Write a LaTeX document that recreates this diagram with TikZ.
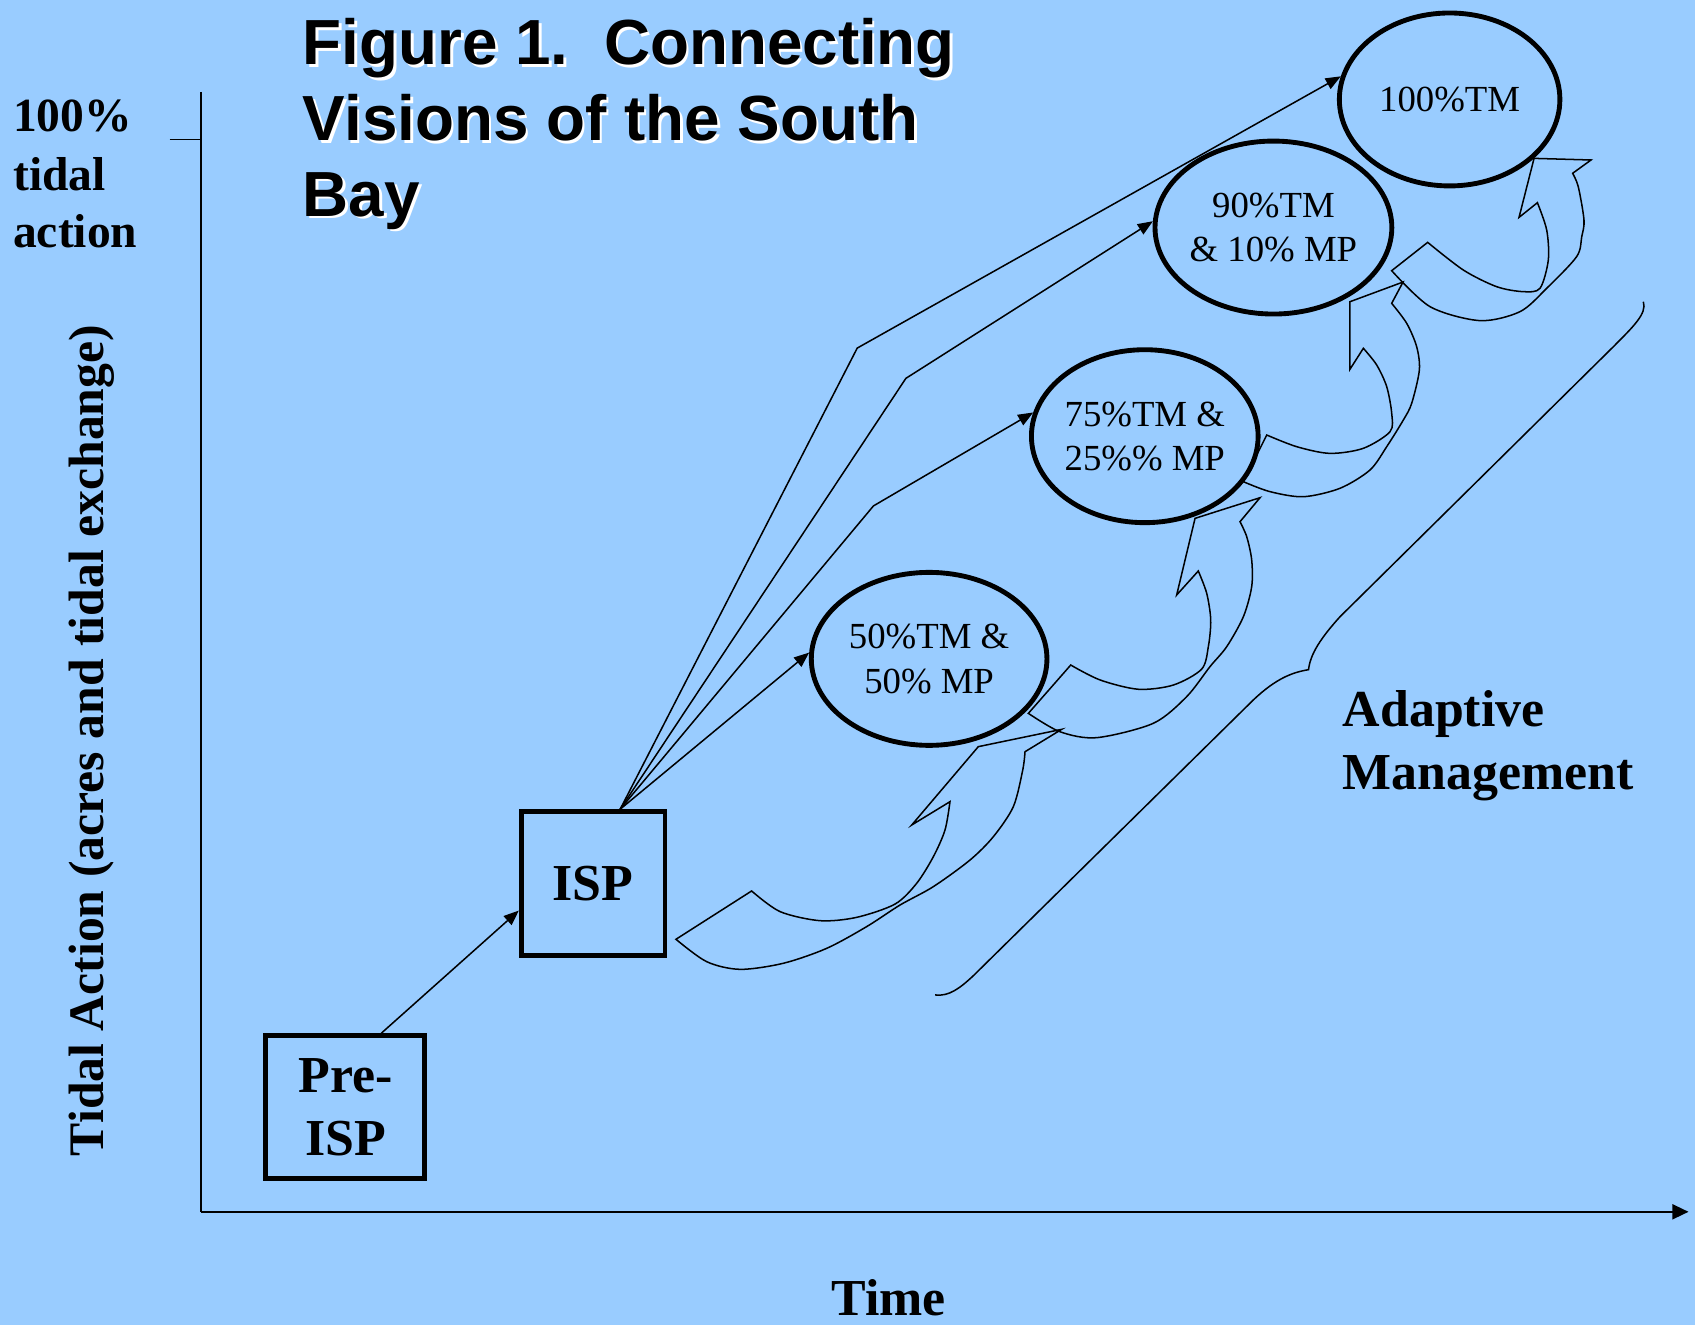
\documentclass[tikz,border=0pt]{standalone}
\usepackage{fontspec}
\setmainfont{Liberation Serif}
\newfontfamily\headfont{Liberation Sans}
\usetikzlibrary{arrows.meta,shapes.geometric}
\definecolor{sky}{HTML}{99CCFF}

\begin{document}
\begin{tikzpicture}[x=1pt,y=-1pt,
  thickframe/.style={draw, line width=4.5pt, fill=sky, inner sep=0pt},
  stage/.style={thickframe, ellipse, font=\fontsize{34}{41}\selectfont, align=center},
  phase/.style={thickframe, rectangle, font=\bfseries\fontsize{48}{58}\selectfont, align=center},
  conn/.style={line width=1.4pt, -{Triangle[length=14pt,width=11pt]}},
  axisline/.style={line width=1.6pt},
  bendarrow/.style={line width=1.4pt, line join=miter},
  bigtag/.style={inner sep=0pt, font=\bfseries\fontsize{48}{58}\selectfont},
  sidetag/.style={inner sep=0pt, font=\bfseries\fontsize{44}{53}\selectfont},
  headline/.style={inner sep=0pt, anchor=base west, font=\headfont\bfseries\fontsize{59}{70}\selectfont},
]
% canvas
\fill[sky] (0,0) rectangle (1568,1226);
\useasboundingbox (0,0) rectangle (1568,1226);

% title with its white drop shadow
\foreach \dx/\col in {2.5/white, 0/black}{
  \node[headline, text=\col] at (280+\dx,60+\dx) {Figure 1.\ \ Connecting};
  \node[headline, text=\col] at (280+\dx,130+\dx) {Visions of the South};
  \node[headline, text=\col] at (280+\dx,200+\dx) {Bay};
}

% axes
\coordinate (ytop) at (186,85);
\coordinate (origin) at (186,1121);
\coordinate (xend) at (1562,1121);
\coordinate (tickL) at (157,129);
\coordinate (tickR) at (186,129);
\draw[axisline] (ytop) -- (origin);
\draw[axisline, -{Triangle[length=15pt,width=14pt]}] (origin) -- (xend);
\draw[axisline] (tickL) -- (tickR);

\node[sidetag, anchor=base west] (l1) at (12,122) {100\%};
\node[sidetag, anchor=base west] (l2) at (12,176) {tidal};
\node[sidetag, anchor=base west] (l3) at (12,229) {action};
\node[inner sep=0pt, rotate=90, anchor=base, font=\bfseries\fontsize{46}{55}\selectfont] (ylab) at (96,685) {Tidal Action (acres and tidal exchange)};
\node[bigtag, anchor=base] (xlab) at (822,1217) {Time};

% curved feedback arrows (open outlines)
\draw[bendarrow] plot[smooth] coordinates {(695.3,824.2) (721.6,843.3) (758.6,851.7) (792.5,848.6) (828,836.3) (848,817.1) (863.4,792.5) (874.2,767.8) (878.8,741.6)}
  -- (843.4,763.2) -- (905,690.7) -- (982.1,674.7) -- (948.2,695.4)
  -- plot[smooth] coordinates {(948.2,695.4) (946.1,712.3) (937.4,746.2) (918.9,774) (897.3,795.6) (863.4,820.2) (832.6,837.2) (801.7,857.2) (764.7,877.3) (724.6,891.1) (684.6,896.7) (653.7,889.6) (625.3,868.9)}
  -- cycle;
\draw[bendarrow] plot[smooth] coordinates {(990.5,615.2) (1017.6,629) (1053,637.6) (1085.4,633.7) (1111.6,619) (1117.8,598.2) (1120,573.5) (1116.3,548.9) (1108.5,528.2)}
  -- (1088.5,550.4) -- (1105.5,479.5) -- (1165.6,460.4) -- (1147.1,482.6)
  -- plot[smooth] coordinates {(1147.1,482.6) (1153.3,496.5) (1157.9,518) (1157.9,542.7) (1150.2,570.5) (1134.8,598.2) (1119.3,616.7) (1097.7,644.5) (1066.9,669.1) (1014.5,682.4) (980.6,676.9) (951.3,659.9)}
  -- cycle;
\draw[bendarrow] plot[smooth] coordinates {(1171.8,402.4) (1199.5,413.2) (1230.3,419.4) (1261.2,414.7) (1285.9,399.3) (1287.4,382.3) (1282.8,357.7) (1273.5,337.6) (1261.2,322.2)}
  -- (1248.8,341.6) -- (1248.8,279.1) -- (1297.9,260.9) -- (1287.4,280.6)
  -- plot[smooth] coordinates {(1287.4,280.6) (1301.3,299.1) (1310.5,320.7) (1313,342.3) (1305.9,373.1) (1298.2,388.5) (1282.8,413.2) (1267.3,434.8) (1239.6,451.7) (1205.7,459.5) (1174.8,454.8) (1150.2,445.6)}
  -- cycle;
\draw[bendarrow] plot[smooth] coordinates {(1320.7,224.2) (1353.7,249.8) (1384.5,265.2) (1409.2,269.8) (1424.6,266.7) (1432.3,240.5) (1430.8,212.8) (1422.2,187.5)}
  -- (1405.2,201.1) -- (1419.1,146.5) -- (1471.8,148) -- (1454.8,160.3)
  -- plot[smooth] coordinates {(1454.8,160.3) (1460,172.7) (1465.3,203.5) (1463.2,219) (1458.5,237.4) (1430.8,266.7) (1406.1,288.3) (1369.1,296.6) (1322.9,283.7) (1287.4,250.4)}
  -- cycle;

% adaptive management brace
\draw[bendarrow] (865,920.4) .. controls (878,922) and (888,914) .. (900,903)
  -- (1159.4,647.5) .. controls (1180,628) and (1195,622) .. (1210.5,619.5)
  .. controls (1212,605) and (1222,590) .. (1239.6,570.5)
  -- (1492.5,320.7) .. controls (1510,303) and (1524,290) .. (1520.2,279.1);
\node[bigtag, anchor=base west] (am1) at (1242,672) {Adaptive};
\node[bigtag, anchor=base west] (am2) at (1242,730) {Management};

% stages
\node[phase, minimum width=147pt, minimum height=132pt] (pre) at (319.5,1024) {Pre-\\ISP};
\node[phase, minimum width=133pt, minimum height=133pt] (isp) at (548.7,817.3) {ISP};
\node[stage, minimum width=218pt, minimum height=160pt] (e50) at (859.5,609.5) {50\%TM \&\\50\% MP};
\node[stage, minimum width=208pt, minimum height=160pt] (e75) at (1059,403.5) {75\%TM \&\\25\%\% MP};
\node[stage, minimum width=204pt, minimum height=160pt] (e90) at (1178,210.5) {90\%TM\\\& 10\% MP};
\node[stage, minimum width=204pt, minimum height=160pt] (e100) at (1341,92) {100\%TM};

% pathways
\coordinate (fan) at (isp.70);
\draw[conn] (pre.64) -- (isp.200);
\draw[conn] (fan) -- (e50.177);
\draw[conn] (fan) -- (808,468) -- (e75.168);
\draw[conn] (fan) -- (838,350) -- (e90.177);
\draw[conn] (fan) -- (793,322) -- (e100.168);
\end{tikzpicture}
\end{document}
